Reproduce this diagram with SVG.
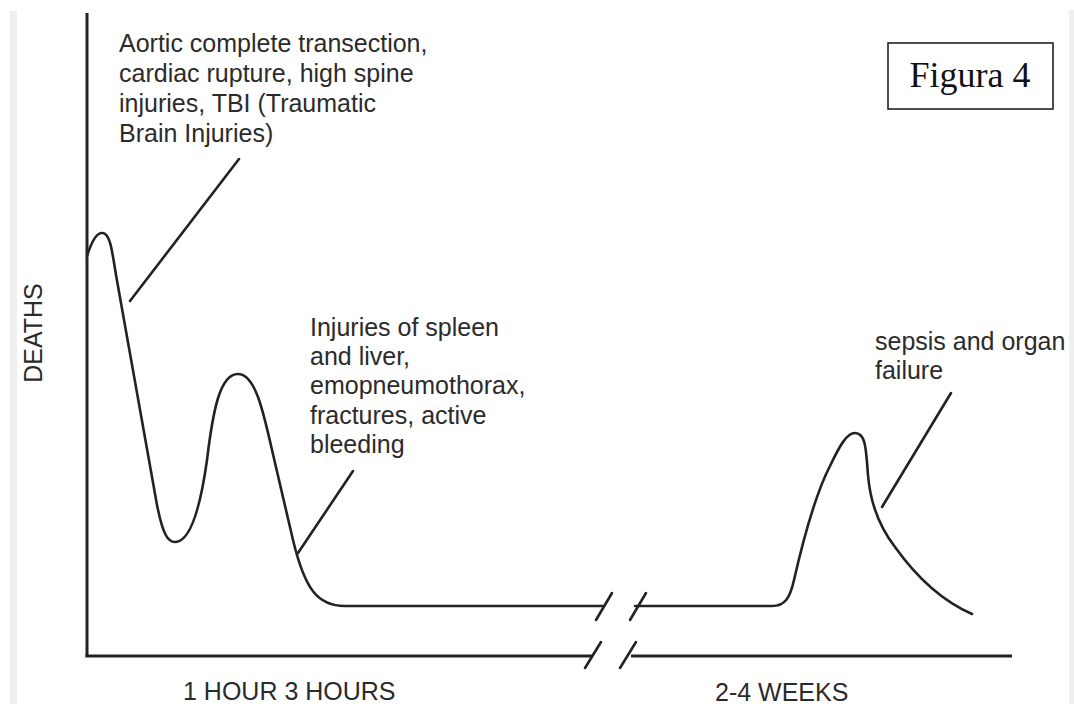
<svg xmlns="http://www.w3.org/2000/svg" width="1074" height="704" viewBox="0 0 1074 704">
  <style>
    .lbl { font-family: "Liberation Sans", Arial, Helvetica, sans-serif; font-size: 25px; fill: #2b2b2b; }
    .ln { fill: none; stroke: #222; stroke-width: 2.6; stroke-linecap: round; stroke-linejoin: round; }
    .ax { fill: none; stroke: #222; stroke-width: 3; stroke-linecap: butt; }
    .band { fill: #efefef; }
  </style>
  <rect x="0" y="0" width="1074" height="704" fill="#ffffff"/>
  <rect class="band" x="10" y="11" width="7" height="693"/>
  <rect class="band" x="1069" y="10" width="5" height="694"/>

  <g id="axes">
    <line class="ax" x1="87" y1="13" x2="87" y2="657"/>
    <line class="ax" x1="85.5" y1="656" x2="593" y2="656"/>
    <line class="ax" x1="631" y1="656" x2="1012" y2="656"/>
    <line class="ln" x1="585" y1="668" x2="601" y2="642"/>
    <line class="ln" x1="620" y1="668" x2="636" y2="642"/>
  </g>

  <g id="curve">
    <path class="ln" d="M87,256 C92,240 97,232 103,233 C110,234 112,250 116,275 L157,505 C163,535 168,542 175,542 C190,542 200,510 207,460 C213,410 220,374 238,374 C255,374 263,410 272,450 L293,540 C305,590 318,606 345,606 L603,606"/>
    <path class="ln" d="M635,606 L772,606 C785,606 790,598 794,580 C802,545 815,495 830,466 C840,445 847,433 855,433 C866,433 866,450 868,475 C870,500 878,525 895,547 C915,575 940,600 972,614"/>
    <line class="ln" x1="596" y1="620" x2="612" y2="593"/>
    <line class="ln" x1="630" y1="620" x2="646" y2="593"/>
  </g>

  <g id="connectors">
    <line class="ln" x1="130" y1="301" x2="239" y2="159"/>
    <line class="ln" x1="298" y1="553" x2="353" y2="471"/>
    <line class="ln" x1="882" y1="507" x2="951" y2="393"/>
  </g>

  <g id="label-early">
    <text class="lbl" x="119" y="52">Aortic complete transection,</text>
    <text class="lbl" x="119" y="82">cardiac rupture, high spine</text>
    <text class="lbl" x="119" y="112">injuries, TBI (Traumatic</text>
    <text class="lbl" x="119" y="142">Brain Injuries)</text>
  </g>

  <g id="label-mid">
    <text class="lbl" x="310" y="336">Injuries of spleen</text>
    <text class="lbl" x="310" y="365">and liver,</text>
    <text class="lbl" x="310" y="394">emopneumothorax,</text>
    <text class="lbl" x="310" y="424">fractures, active</text>
    <text class="lbl" x="310" y="453">bleeding</text>
  </g>

  <g id="label-late">
    <text class="lbl" x="875" y="350">sepsis and organ</text>
    <text class="lbl" x="875" y="379">failure</text>
  </g>

  <g id="label-y">
    <text class="lbl" x="0" y="0" text-anchor="middle" transform="translate(42,333) rotate(-90)" font-size="24">DEATHS</text>
  </g>

  <g id="label-x">
    <text class="lbl" x="183" y="700">1 HOUR 3 HOURS</text>
    <text class="lbl" x="715" y="701">2-4 WEEKS</text>
  </g>

  <g id="figura">
    <rect x="888" y="43" width="165" height="66" fill="#ffffff" stroke="#222" stroke-width="1.6"/>
    <text x="970" y="87" text-anchor="middle" font-family="'Liberation Serif', 'Times New Roman', serif" font-size="36" fill="#111">Figura 4</text>
  </g>
</svg>
